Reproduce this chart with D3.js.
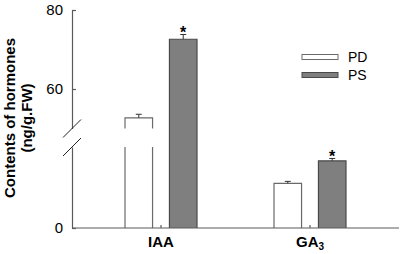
<!DOCTYPE html>
<html>
<head>
<meta charset="utf-8">
<script src="https://cdn.jsdelivr.net/npm/d3@7"></script>
<style>
  body { margin: 0; background: #fff; }
  svg { display: block; font-family: "Liberation Sans", Arial, sans-serif; }
</style>
</head>
<body>
<svg width="403" height="254"></svg>
<script>
// data
var categories = ["IAA", "GA3"];
var series = ["PD", "PS"];
var pdValues = [52.7, 11.3];
var psValues = [72.6, 17.0];
var pdErrors = [0.9, 0.5];
var psErrors = [1.2, 0.6];
var psStars = [true, true];
var upperTicks = [60, 80];
var lowerTicks = [0];

var svg = d3.select("svg"),
    axisColor = "#5a5a5a";

// broken y axis: two linear pieces
var lowTop = 20.5, highBottom = 50;
var yLow = d3.scaleLinear().domain([0, lowTop]).range([228, 147]);
var yHigh = d3.scaleLinear().domain([highBottom, 80]).range([128.5, 10]);
function y(v) { return v > lowTop ? yHigh(v) : yLow(v); }

var x = d3.scaleBand().domain(categories).range([86.5, 384.5]);
var xSub = d3.scaleBand().domain(series).range([-36, 36]).paddingInner(0.38);

var rows = categories.map(function(c, i) {
  return [
    {cat: c, s: "PD", v: pdValues[i], e: pdErrors[i], star: false, fill: "#ffffff", stroke: "#6a6a6a", gap: true},
    {cat: c, s: "PS", v: psValues[i], e: psErrors[i], star: psStars[i], fill: "#7f7f7f", stroke: "#4a4a4a", gap: false}
  ];
});
var bars = [].concat.apply([], rows);

function bx(d) { return x(d.cat) + x.bandwidth() / 2 + xSub(d.s); }

var g = svg.append("g");

// bar fills
g.selectAll("rect.bar").data(bars).enter().append("rect")
  .attr("class", "bar")
  .attr("x", bx)
  .attr("y", function(d) { return y(d.v); })
  .attr("width", xSub.bandwidth())
  .attr("height", function(d) { return yLow(0) - y(d.v); })
  .attr("fill", function(d) { return d.fill; });

// bar outlines; the open bar shows the axis break
g.selectAll("path.outline").data(bars).enter().append("path")
  .attr("class", "outline")
  .attr("fill", "none")
  .attr("stroke", function(d) { return d.stroke; })
  .attr("stroke-width", 1.2)
  .attr("d", function(d) {
    var l = bx(d), r = l + xSub.bandwidth(), b = yLow(0), t = y(d.v);
    if (d.v > lowTop && d.gap) {
      var lt = yLow(lowTop), hb = yHigh(highBottom);
      return "M" + l + "," + b + "V" + lt + "M" + r + "," + b + "V" + lt +
             "M" + l + "," + hb + "V" + t + "H" + r + "V" + hb;
    }
    return "M" + l + "," + b + "V" + t + "H" + r + "V" + b;
  });

// error bars
var eb = g.selectAll("g.err").data(bars).enter().append("g").attr("class", "err")
  .attr("stroke", "#333").attr("stroke-width", 1);
eb.append("line")
  .attr("x1", function(d) { return bx(d) + xSub.bandwidth() / 2; })
  .attr("x2", function(d) { return bx(d) + xSub.bandwidth() / 2; })
  .attr("y1", function(d) { return y(d.v); })
  .attr("y2", function(d) { return y(d.v + d.e); });
eb.append("line")
  .attr("x1", function(d) { return bx(d) + xSub.bandwidth() / 2 - 3; })
  .attr("x2", function(d) { return bx(d) + xSub.bandwidth() / 2 + 3; })
  .attr("y1", function(d) { return y(d.v + d.e); })
  .attr("y2", function(d) { return y(d.v + d.e); });

// significance stars
g.selectAll("text.star").data(bars.filter(function(d) { return d.star; })).enter().append("text")
  .attr("class", "star")
  .attr("x", function(d) { return bx(d) + xSub.bandwidth() / 2; })
  .attr("y", function(d) { return y(d.v + d.e) + 4; })
  .attr("text-anchor", "middle")
  .style("font-size", "16px")
  .style("font-weight", "bold")
  .text("*");

// y axis, upper and lower pieces
function styleAxis(sel) {
  sel.selectAll("path, line").attr("stroke", axisColor).attr("stroke-width", 1.2);
  sel.selectAll("text").style("font-size", "15px").attr("fill", "#000")
    .style("font-family", "'Liberation Sans', Arial, sans-serif");
}
svg.append("g").attr("transform", "translate(72,0)")
  .call(d3.axisLeft(yHigh).tickValues(upperTicks).tickSizeInner(-4).tickSizeOuter(0).tickPadding(9))
  .call(styleAxis);
svg.append("g").attr("transform", "translate(72,0)")
  .call(d3.axisLeft(yLow).tickValues(lowerTicks).tickSizeInner(-4).tickSizeOuter(0).tickPadding(9))
  .call(styleAxis);

// break marks
[yHigh(highBottom), yLow(lowTop)].forEach(function(by) {
  svg.append("line")
    .attr("x1", 63).attr("y1", by + 9).attr("x2", 81).attr("y2", by - 9)
    .attr("stroke", "#222").attr("stroke-width", 1);
});

// x axis
var xAxis = svg.append("g").attr("transform", "translate(0," + yLow(0) + ")")
  .call(d3.axisBottom(x).tickSizeInner(-3).tickSizeOuter(0).tickFormat(""));
xAxis.select(".domain").remove();
xAxis.append("line").attr("x1", 72).attr("x2", 399).attr("y1", 0).attr("y2", 0);
xAxis.call(styleAxis);

var xl = svg.selectAll("text.xlab").data(categories).enter().append("text")
  .attr("class", "xlab")
  .attr("x", function(c) { return x(c) + x.bandwidth() / 2; })
  .attr("y", 247)
  .attr("text-anchor", "middle")
  .style("font-size", "15px")
  .style("font-weight", "bold");
xl.each(function(c) {
  var t = d3.select(this), m = c.match(/^([A-Za-z]+)(\d*)$/);
  t.append("tspan").text(m[1]);
  if (m[2]) t.append("tspan").attr("dy", 3).style("font-size", "10px").text(m[2]);
});

// y title
var yt = svg.append("text")
  .attr("transform", "translate(10,118) rotate(-90)")
  .attr("text-anchor", "middle")
  .style("font-size", "15px")
  .style("font-weight", "bold");
yt.append("tspan").attr("x", 0).attr("dy", "0.35em").text("Contents of hormones");
yt.append("tspan").attr("x", 0).attr("dy", 17).text("(ng/g.FW)");

// legend
var legend = svg.append("g").selectAll("g").data(series).enter().append("g")
  .attr("transform", function(d, i) { return "translate(302," + (54.5 + i * 18) + ")"; });
legend.append("rect")
  .attr("width", 36).attr("height", 5)
  .attr("fill", function(d, i) { return i ? "#7f7f7f" : "#fff"; })
  .attr("stroke", function(d, i) { return i ? "#4a4a4a" : "#6a6a6a"; })
  .attr("stroke-width", 1);
legend.append("text")
  .attr("x", 46).attr("y", 2.5).attr("dy", "0.35em")
  .style("font-size", "14px")
  .text(function(d) { return d; });
</script>
</body>
</html>
